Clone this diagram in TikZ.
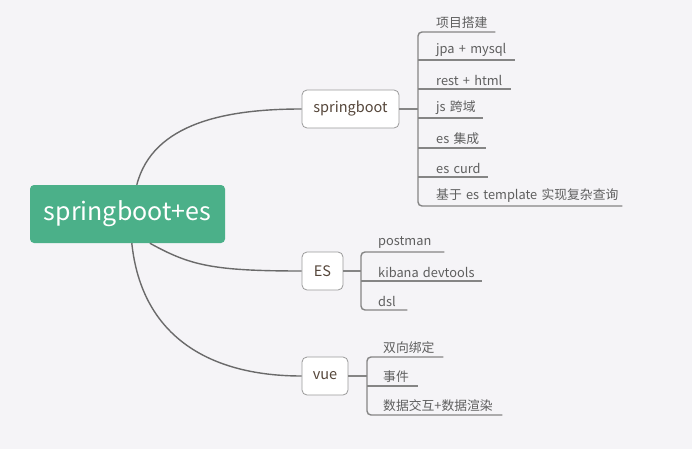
\documentclass[tikz,border=0pt]{standalone}
\usepackage{fontspec}
\setmainfont{Noto Sans CJK SC}
\definecolor{bg}{HTML}{F5F4F7}
\definecolor{rootgreen}{HTML}{4BB089}
\definecolor{curvegray}{HTML}{6A6A6A}
\definecolor{linegray}{HTML}{858585}
\definecolor{nodetext}{HTML}{55463A}
\definecolor{leaftext}{HTML}{5E5E5E}
\definecolor{nodeborder}{HTML}{9A9A9A}
\tikzset{
  rootbox/.style={fill=rootgreen, text=white, rounded corners=4pt, minimum width=195pt, minimum height=58pt, inner sep=0pt, font=\fontsize{25}{29}\selectfont},
  topic/.style={draw=nodeborder, line width=0.8pt, fill=white, rounded corners=5pt, minimum height=38pt, inner sep=0pt, text=nodetext, font=\fontsize{14.5}{17}\selectfont},
  leaf/.style={anchor=south west, inner xsep=0pt, inner ysep=3.5pt, align=left, text=leaftext, font=\fontsize{12.8}{15}\selectfont},
  curve/.style={draw=curvegray, line width=1.4pt},
  branch/.style={draw=linegray, line width=1.4pt},
}
\begin{document}
\begin{tikzpicture}[x=1pt, y=-1pt]
\fill[bg] (0,0) rectangle (692,449);
\useasboundingbox (0,0) rectangle (692,449);

\node[rootbox] (root) at (127.5,214) {springboot+es};

\node[topic, minimum width=97pt] (sb) at (350.5,109) {springboot};
\node[topic, minimum width=41pt] (es) at (322.5,271) {ES};
\node[topic, minimum width=46pt] (vue) at (325,376) {vue};

% curves
\draw[curve] ([xshift=107pt]root.north west) .. controls +(16,-62) and +(-75,0) .. (sb.west);
\draw[curve] ([xshift=120pt]root.south west) .. controls +(40,22) and +(-90,0) .. (es.west);
\draw[curve] ([xshift=102pt]root.south west) .. controls +(10,95) and +(-90,0) .. (vue.west);

% springboot leaves
\node[leaf, text width=77pt] (s1) at (418,32) {\hspace*{18pt}项目搭建};
\node[leaf, text width=97pt] (s2) at (418,60) {\hspace*{18pt}jpa + mysql};
\node[leaf, text width=93pt] (s3) at (418,89) {\hspace*{18pt}rest + html};
\node[leaf, text width=65pt] (s4) at (418,118) {\hspace*{18pt}js 跨域};
\node[leaf, text width=68pt] (s5) at (418,148) {\hspace*{18pt}es 集成};
\node[leaf, text width=70pt] (s6) at (418,177) {\hspace*{18pt}es curd};
\node[leaf, text width=204pt] (s7) at (418,206) {\hspace*{18pt}基于 es template 实现复杂查询};

\draw[branch] (sb.east) -- (sb.east -| s4.south west);
\draw[branch, rounded corners=4pt] (s1.south east) -- (s1.south west) -- (s7.south west) -- (s7.south east);
\foreach \i in {2,...,6} \draw[branch] (s\i.south west) -- (s\i.south east);

% ES leaves
\node[leaf, text width=83pt] (e1) at (361,252) {\hspace*{17pt}postman};
\node[leaf, text width=121pt] (e2) at (361,281) {\hspace*{17pt}kibana devtools};
\node[leaf, text width=46pt] (e3) at (361,310) {\hspace*{17pt}dsl};

\draw[branch] (es.east) -- (es.east -| e2.south west);
\draw[branch, rounded corners=4pt] (e1.south east) -- (e1.south west) -- (e3.south west) -- (e3.south east);
\draw[branch] (e2.south west) -- (e2.south east);

% vue leaves
\node[leaf, text width=76pt] (v1) at (367,357) {\hspace*{16pt}双向绑定};
\node[leaf, text width=51pt] (v2) at (367,386) {\hspace*{16pt}事件};
\node[leaf, text width=135pt] (v3) at (367,415) {\hspace*{16pt}数据交互+数据渲染};

\draw[branch] (vue.east) -- (vue.east -| v2.south west);
\draw[branch, rounded corners=4pt] (v1.south east) -- (v1.south west) -- (v3.south west) -- (v3.south east);
\draw[branch] (v2.south west) -- (v2.south east);
\end{tikzpicture}
\end{document}
